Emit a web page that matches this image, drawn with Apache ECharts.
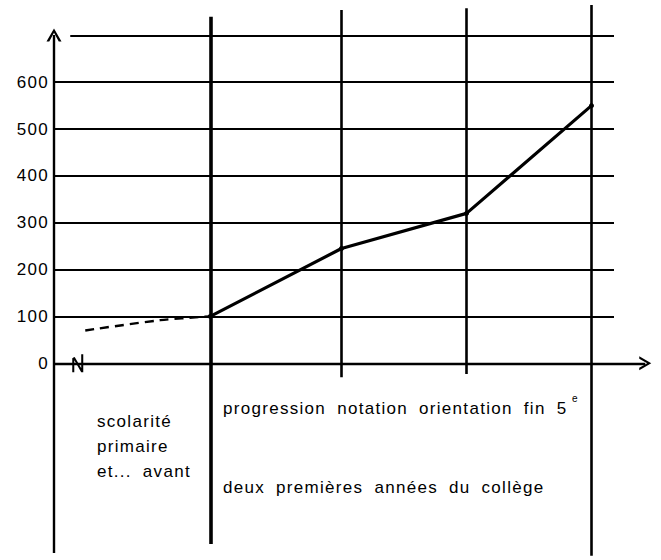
<!DOCTYPE html>
<html><head><meta charset="utf-8">
<script src="https://cdn.jsdelivr.net/npm/echarts@6/dist/echarts.min.js"></script>
<style>
html,body{margin:0;padding:0;background:#fff;}
#chart{width:661px;height:560px;}
#chart text{letter-spacing:1.3px;word-spacing:5px;}
</style></head><body><div id="chart"></div>
<script>
// ---- data ----
const yTicks = [0, 100, 200, 300, 400, 500, 600];
const gridValues = [100, 200, 300, 400, 500, 600, 700];
const stagePositions = [1.25, 2.3, 3.3, 4.3];
const stageValues = [100, 245, 320, 550];
const primaryPositions = [0.25, 0.85, 1.25];
const primaryValues = [70, 92, 100];
const dividerPositions = [1.25, 2.3, 3.3, 4.3];
const dividerTops = [740, 754, 758, 765];
const dividerBottoms = [-386, -30, -23, -411];
const regionLabels = ['scolarité\nprimaire\net... avant', 'progression notation orientation fin 5', 'deux premières années du collège'];
const supLabel = 'e';

const INK = '#000';
const FONT = '"Liberation Sans", Arial, sans-serif';
const chevron = 'path://M0,10 L6,0 L12,10 L9.8,10 L6,3.4 L2.2,10 Z';
const breakMark = 'path://M0,4 L2,3 L2,18 L0,18 Z M0.6,3.6 L2.4,2.8 L10.6,17 L8.8,18 Z M8.8,0 L10.8,0 L10.8,18 L8.8,18 Z';

const chart = echarts.init(document.getElementById('chart'), null, {renderer: 'svg'});

const gridLines = gridValues.map(v => [
  {coord: [v === 700 ? 0.13 : 0, v]},
  {coord: [4.48, v]}
]);
const dividerLines = dividerPositions.map((x, i) => [
  {coord: [x, dividerBottoms[i]], lineStyle: {width: i === 0 ? 3.6 : 2.6, color: INK}},
  {coord: [x, dividerTops[i]]}
]);
const axisLines = [
  [{coord: [0, 0], symbol: 'none'}, {coord: [4.73, 0], symbol: chevron, symbolSize: [14, 12]}],
  [{coord: [0, -405], symbol: 'none'}, {coord: [0, 701], symbol: chevron, symbolSize: [15, 13]}]
];

chart.setOption({
  animation: false,
  backgroundColor: '#fff',
  grid: {left: 54, width: 600, top: 2.6, height: 561.6},
  xAxis: {type: 'value', min: 0, max: 4.8, show: false},
  yAxis: {
    type: 'value', min: -420, max: 770, interval: 10,
    axisLine: {show: false}, axisTick: {show: false}, splitLine: {show: false},
    axisLabel: {
      customValues: yTicks,
      formatter: v => (yTicks.indexOf(v) >= 0 ? String(v) : ''),
      color: INK, fontSize: 17, fontFamily: FONT, margin: 5
    }
  },
  series: [
    {
      type: 'line', data: [], silent: true, clip: false,
      markLine: {silent: true, symbol: 'none', label: {show: false},
        lineStyle: {color: INK, width: 2, type: 'solid'}, data: gridLines}
    },
    {
      type: 'line', data: [], silent: true, clip: false,
      markLine: {silent: true, symbol: 'none', label: {show: false},
        lineStyle: {color: INK, width: 2.6, type: 'solid'}, data: dividerLines}
    },
    {
      type: 'line', data: [], silent: true, clip: false,
      markLine: {silent: true, symbol: 'none', label: {show: false},
        lineStyle: {color: INK, width: 2.4, type: 'solid'}, data: axisLines},
      markPoint: {silent: true, symbol: breakMark, symbolSize: [11, 18],
        itemStyle: {color: INK}, label: {show: false}, data: [{coord: [0.19, 0]}]}
    },
    {
      type: 'line', clip: false,
      data: primaryPositions.map((x, i) => [x, primaryValues[i]]),
      smooth: 0.3, symbol: 'none',
      lineStyle: {color: INK, width: 2.4, type: [9, 6]}
    },
    {
      type: 'line', clip: false,
      data: stagePositions.map((x, i) => [x, stageValues[i]]),
      symbol: 'circle', symbolSize: 5,
      itemStyle: {color: INK},
      lineStyle: {color: INK, width: 3.2}
    }
  ],
  graphic: [
    {type: 'text', x: 97, y: 446, silent: true,
      style: {text: regionLabels[0], fontSize: 17, fontFamily: FONT, fill: INK, lineHeight: 25,
        align: 'left', verticalAlign: 'middle'}},
    {type: 'text', x: 223, y: 408, silent: true,
      style: {text: regionLabels[1], fontSize: 17, fontFamily: FONT, fill: INK,
        align: 'left', verticalAlign: 'middle'}},
    {type: 'text', x: 572, y: 398, silent: true,
      style: {text: supLabel, fontSize: 10, fontFamily: FONT, fill: INK,
        align: 'left', verticalAlign: 'middle'}},
    {type: 'text', x: 223, y: 487, silent: true,
      style: {text: regionLabels[2], fontSize: 17, fontFamily: FONT, fill: INK,
        align: 'left', verticalAlign: 'middle'}}
  ]
});
</script></body></html>
